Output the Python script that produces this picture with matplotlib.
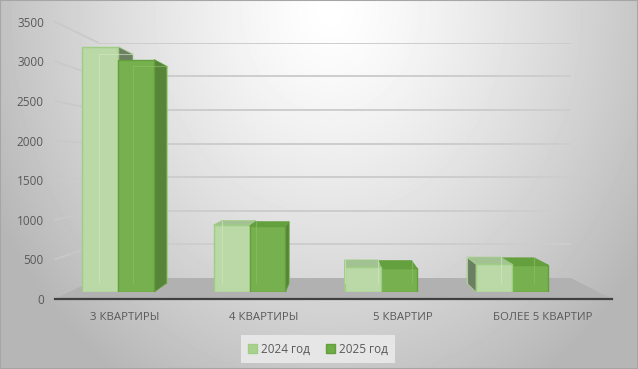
import numpy as np
import matplotlib.pyplot as plt
from matplotlib.patches import Polygon, Patch

categories = ['3 КВАРТИРЫ', '4 КВАРТИРЫ', '5 КВАРТИР', 'БОЛЕЕ 5 КВАРТИР']
series_names = ['2024 год', '2025 год']
values_2024 = [3260, 890, 330, 370]
values_2025 = [3090, 875, 320, 360]
y_ticks = [0, 500, 1000, 1500, 2000, 2500, 3000, 3500]

plt.rcParams['font.family'] = ['Open Sans', 'DejaVu Sans']

W, H = 638, 369
fig = plt.figure(figsize=(W / 100, H / 100), dpi=100)

# perspective: vanishing point (image px) and depth factors
VP = np.array([340.0, 160.0])
K_WALL = 0.849   # back wall vs front edge of floor
K_BAR = 0.933    # back of a bar vs its front face


def frac(x0, y0, x1, y1):
    # pixel box with top-left origin -> figure fraction rect
    return [x0 / W, 1 - y1 / H, (x1 - x0) / W, (y1 - y0) / H]


def shrink(p, k):
    return VP + (np.asarray(p) - VP) * k


# background gradient
bg = fig.add_axes([0, 0, 1, 1], zorder=-10)
yy, xx = np.mgrid[0:H, 0:W]
r = np.sqrt(((xx - 330) / 360.0) ** 2 + ((yy - 10) / 420.0) ** 2)
shade = 1 - 0.27 * np.clip(r, 0, 1.05) ** 1.3
bg.imshow(shade, cmap='gray', vmin=0, vmax=1, extent=[0, W, H, 0],
          aspect='auto', interpolation='bilinear')
bg.set_xlim(0, W)
bg.set_ylim(H, 0)
bg.set_axis_off()


def to_img(ax, x, y):
    return bg.transData.inverted().transform(ax.transData.transform((x, y)))


def from_img(ax, p):
    return ax.transData.inverted().transform(bg.transData.transform(p))


# front plane (axis labels live here)
front_box = (55, 21.8, 612, 299)
ax = fig.add_axes(frac(*front_box), zorder=1)
ax.set_xlim(0, 4)
ax.set_ylim(0, 3500)
ax.patch.set_visible(False)

# back wall
tl = shrink((front_box[0], front_box[1]), K_WALL)
br = shrink((front_box[2], front_box[3]), K_WALL)
ax_back = fig.add_axes(frac(tl[0], tl[1], br[0], br[1]), zorder=0)
ax_back.set_xlim(0, 4)
ax_back.set_ylim(0, 3500)
ax_back.patch.set_visible(False)
ax_back.set_yticks(y_ticks[1:])
ax_back.set_xticks([])
ax_back.tick_params(length=0, labelleft=False)
ax_back.grid(axis='y', color='#cdcdcd', lw=1.4)
for s in ax_back.spines.values():
    s.set_visible(False)

# bars axes (front faces of bars)
ax_bars = fig.add_axes(frac(52.55, 28.66, 577.75, 292), zorder=2)
ax_bars.set_xlim(-0.5, 3.5)
ax_bars.set_ylim(0, 3500)
ax_bars.set_axis_off()

fig.canvas.draw()

# side wall gridlines
for v in y_ticks[1:]:
    p_back = from_img(ax, to_img(ax_back, 0, v))
    ax.plot([0, p_back[0]], [v, p_back[1]], color='#c9c9c9', lw=1.2,
            clip_on=False, zorder=0)

# floor
fl = [to_img(ax, 0, 0), to_img(ax, 4, 0), to_img(ax_back, 4, 0), to_img(ax_back, 0, 0)]
floor = Polygon([from_img(ax, p) for p in fl], closed=True, facecolor='#b1b1b1',
                edgecolor='none', clip_on=False, zorder=0.5)
ax.add_patch(floor)
ax.plot([0, 4], [0, 0], color='#404040', lw=1.6, clip_on=False, zorder=0.6)

ax.set_yticks(y_ticks)
ax.set_yticklabels([str(t) for t in y_ticks])
ax.set_xticks([0.5, 1.5, 2.5, 3.5])
ax.set_xticklabels(categories)
ax.tick_params(axis='y', length=0, pad=8, labelsize=8.5, labelcolor='#595959')
ax.tick_params(axis='x', length=0, pad=9, labelsize=8.2, labelcolor='#595959')
for s in ax.spines.values():
    s.set_visible(False)

# bars
width = 0.274
x = np.arange(len(categories))
styles = [
    dict(front='#bbd8a7', edge='#a0cd86', side='#6c7f63', top='#a3c293', inner='#d4e8c6'),
    dict(front='#77b04f', edge='#63a03c', side='#56853a', top='#65a03f', inner='#8cc266'),
]
boxes = []
for j, vals in enumerate([values_2024, values_2025]):
    rects = ax_bars.bar(x + (j - 0.5) * width, vals, width, color=styles[j]['front'],
                        edgecolor=styles[j]['edge'], linewidth=1.0)
    for rect in rects:
        boxes.append((rect, styles[j]))


# draw order: farther from vanishing point first
def vp_dist(item):
    rect = item[0]
    cx = to_img(ax_bars, rect.get_x() + rect.get_width() / 2, 0)[0]
    return -abs(cx - VP[0])


for rank, (rect, st) in enumerate(sorted(boxes, key=vp_dist)):
    z = 2 + rank * 4
    x0, x1 = rect.get_x(), rect.get_x() + rect.get_width()
    h = rect.get_height()
    f = {k: to_img(ax_bars, *p) for k, p in
         dict(tl=(x0, h), tr=(x1, h), bl=(x0, 0), br=(x1, 0)).items()}
    b = {k: shrink(p, K_BAR) for k, p in f.items()}
    faces = []
    if b['tr'][0] > f['tr'][0]:
        faces.append(([f['tr'], b['tr'], b['br'], f['br']], st['side']))
    else:
        faces.append(([f['tl'], b['tl'], b['bl'], f['bl']], st['side']))
    if b['tl'][1] < f['tl'][1]:
        faces.append(([f['tl'], f['tr'], b['tr'], b['tl']], st['top']))
    for pts, col in faces:
        poly = Polygon([from_img(ax_bars, p) for p in pts], closed=True, facecolor=col,
                       edgecolor=st['edge'], lw=0.6, clip_on=False, zorder=z)
        ax_bars.add_patch(poly)
    rect.set_zorder(z + 1)
    # back edges seen through the semi-transparent front
    for a, c in [('tl', 'bl'), ('tr', 'br'), ('tl', 'tr')]:
        if a == 'tl' and c == 'tr' and b['tl'][1] < f['tl'][1]:
            continue
        pa, pc = from_img(ax_bars, b[a]), from_img(ax_bars, b[c])
        ax_bars.plot([pa[0], pc[0]], [pa[1], pc[1]], color=st['inner'], lw=0.8,
                     alpha=0.6, clip_on=False, zorder=z + 2)

handles = [Patch(facecolor=c, edgecolor=styles[j]['edge'], label=series_names[j])
           for j, c in enumerate(['#a9d18e', '#70ad47'])]
leg = fig.legend(handles=handles, loc='center', bbox_to_anchor=(318 / W, 1 - 349 / H),
                 ncol=2, fontsize=8.5, frameon=True, facecolor='#e6e6e6', edgecolor='none',
                 fancybox=False, framealpha=1, handlelength=0.75, handleheight=0.75,
                 handletextpad=0.3, columnspacing=1.4, borderpad=0.6)
for t in leg.get_texts():
    t.set_color('#595959')

fig.patches.append(plt.Rectangle((0, 0), 1, 1, transform=fig.transFigure, fill=False,
                                 edgecolor='#a6a6a6', lw=1.5))

fig.savefig('out.png', dpi=100)
